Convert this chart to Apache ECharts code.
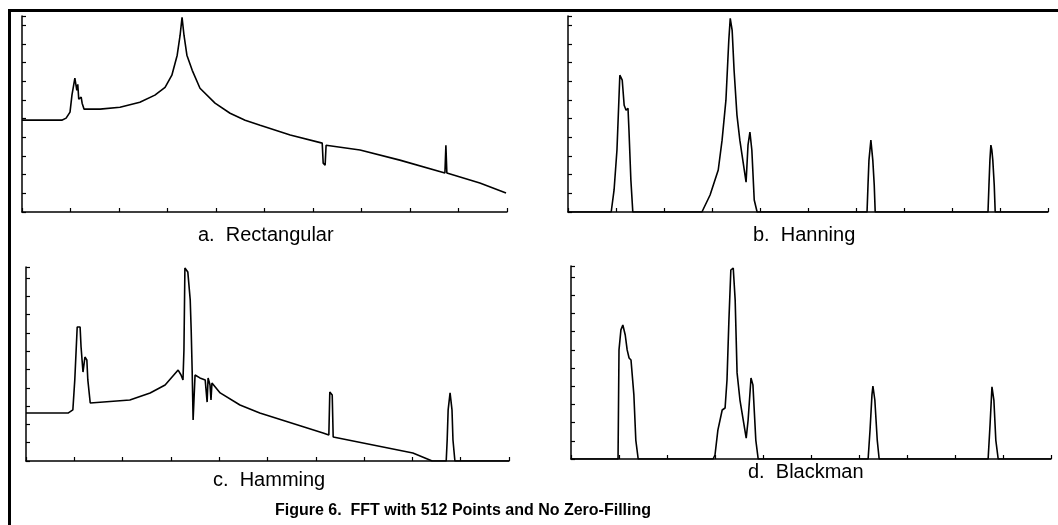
<!DOCTYPE html>
<html>
<head>
<meta charset="utf-8">
<title>FFT with 512 Points and No Zero-Filling</title>
<script src="https://cdn.jsdelivr.net/npm/echarts@6/dist/echarts.min.js"></script>
<style>
  html, body { margin: 0; padding: 0; background: #fff; }
  #main { width: 1058px; height: 525px; }
</style>
</head>
<body>
<div id="main"></div>
<script>
// spectra, x in tenths of the band, y in tick units
var rectangular = [
  [0, 4.92], [0.82, 4.92], [0.91, 5.03], [0.99, 5.35], [1.03, 6.26], [1.09, 7.17],
  [1.13, 6.52], [1.15, 6.84], [1.17, 6.04], [1.22, 6.15], [1.24, 5.83], [1.28, 5.51],
  [1.61, 5.51], [2.02, 5.61], [2.43, 5.88], [2.74, 6.26], [2.95, 6.68], [3.09, 7.33],
  [3.20, 8.40], [3.26, 9.47], [3.30, 10.43], [3.34, 9.47], [3.40, 8.40], [3.51, 7.59],
  [3.67, 6.63], [3.98, 5.83], [4.29, 5.29], [4.60, 4.92], [4.91, 4.65], [5.53, 4.12],
  [6.19, 3.69], [6.21, 2.62], [6.25, 2.51], [6.27, 3.58], [6.97, 3.32], [7.79, 2.78],
  [8.72, 2.09], [8.74, 3.58], [8.76, 2.09], [9.44, 1.55], [9.98, 1.02]
]

var hanning = [
  [0, 0], [0.90, 0], [0.96, 1.18], [1.02, 3.32], [1.06, 5.99], [1.08, 7.33],
  [1.13, 7.06], [1.17, 5.72], [1.21, 5.45], [1.25, 5.56], [1.27, 4.39], [1.31, 1.71],
  [1.35, 0], [2.79, 0], [2.96, 0.91], [3.13, 2.25], [3.21, 3.85], [3.29, 5.99],
  [3.33, 8.13], [3.35, 9.20], [3.38, 10.37], [3.42, 9.73], [3.46, 7.59], [3.52, 5.19],
  [3.58, 3.85], [3.71, 1.60], [3.75, 3.58], [3.79, 4.28], [3.83, 3.32], [3.88, 0.64],
  [3.94, 0], [6.23, 0], [6.25, 1.44], [6.27, 2.78], [6.31, 3.85], [6.35, 2.78],
  [6.38, 1.44], [6.40, 0], [8.75, 0], [8.77, 1.44], [8.79, 2.78], [8.81, 3.58],
  [8.83, 3.32], [8.85, 2.78], [8.88, 1.44], [8.90, 0], [10, 0]
]

var hamming = [
  [0, 2.62], [0.87, 2.62], [0.97, 2.79], [1.01, 4.43], [1.06, 7.32], [1.12, 7.32],
  [1.14, 6.23], [1.18, 4.86], [1.22, 5.68], [1.26, 5.52], [1.28, 4.43], [1.33, 3.17],
  [1.37, 3.11], [2.15, 3.33], [2.57, 3.72], [2.88, 4.15], [3.15, 4.97], [3.21, 4.70],
  [3.25, 4.43], [3.27, 6.07], [3.29, 10.55], [3.35, 10.33], [3.40, 8.80], [3.42, 7.16],
  [3.44, 4.97], [3.46, 2.24], [3.50, 4.70], [3.60, 4.54], [3.71, 4.43], [3.75, 3.22],
  [3.77, 4.54], [3.81, 4.15], [3.83, 3.33], [3.85, 4.26], [4.02, 3.72], [4.43, 3.06],
  [4.84, 2.62], [6.15, 1.53], [6.27, 1.42], [6.29, 3.77], [6.34, 3.61], [6.36, 1.31],
  [8.01, 0.44], [8.41, 0], [8.70, 0], [8.72, 1.15], [8.74, 2.79], [8.78, 3.72],
  [8.82, 2.79], [8.84, 1.15], [8.88, 0], [10, 0]
]

var blackman = [
  [0, 0], [0.98, 0], [1.00, 5.99], [1.04, 7.09], [1.08, 7.36], [1.13, 6.81],
  [1.17, 5.99], [1.21, 5.55], [1.25, 5.44], [1.31, 3.52], [1.35, 1.04], [1.40, 0],
  [2.96, 0], [3.00, 0.22], [3.06, 1.59], [3.15, 2.69], [3.21, 2.80], [3.25, 4.34],
  [3.29, 7.64], [3.33, 10.38], [3.38, 10.49], [3.42, 8.74], [3.46, 4.73], [3.52, 3.24],
  [3.65, 1.15], [3.69, 2.14], [3.75, 4.45], [3.79, 4.07], [3.85, 1.04], [3.90, 0],
  [6.19, 0], [6.23, 1.59], [6.27, 3.52], [6.29, 4.01], [6.33, 3.24], [6.38, 1.04],
  [6.42, 0], [8.69, 0], [8.73, 1.87], [8.77, 3.96], [8.81, 3.24], [8.85, 1.04],
  [8.90, 0], [10, 0]
]

var captions = ['a.  Rectangular', 'b.  Hanning', 'c.  Hamming', 'd.  Blackman']
var figureTitle = 'Figure 6.  FFT with 512 Points and No Zero-Filling'

var myChart = echarts.init(document.getElementById('main'))

var grids = [
  { left: 22, top: 16, width: 485, height: 196 },
  { left: 568, top: 16, width: 480, height: 196 },
  { left: 26, top: 267, width: 483, height: 194 },
  { left: 571, top: 266, width: 480, height: 193 }
]
var yMax = [10.5, 10.5, 10.6, 10.6]
var spectra = [rectangular, hanning, hamming, blackman]

function axisStyle(i, isX) {
  return {
    type: 'value',
    gridIndex: i,
    min: 0,
    max: isX ? 10 : yMax[i],
    interval: 1,
    splitLine: { show: false },
    axisLabel: { show: false },
    axisLine: { show: true, onZero: false, lineStyle: { color: '#000', width: 1.5 } },
    axisTick: { show: true, inside: true, length: 4, lineStyle: { color: '#000', width: 1.2 } }
  }
}

var xAxes = [], yAxes = [], series = []
for (var i = 0; i < 4; i++) {
  xAxes.push(axisStyle(i, true))
  yAxes.push(axisStyle(i, false))
  series.push({
    type: 'line',
    xAxisIndex: i,
    yAxisIndex: i,
    data: spectra[i],
    showSymbol: false,
    symbol: 'none',
    animation: false,
    lineStyle: { color: '#000', width: 1.6 }
  })
}

var captionPos = [[198, 235], [753, 235], [213, 480], [748, 472]]
var graphics = [
  { type: 'line', shape: { x1: 9.5, y1: 9, x2: 9.5, y2: 525 }, style: { stroke: '#000', lineWidth: 3 } },
  { type: 'line', shape: { x1: 8, y1: 10.5, x2: 1058, y2: 10.5 }, style: { stroke: '#000', lineWidth: 3 } }
]
captions.forEach(function (c, k) {
  graphics.push({
    type: 'text',
    x: captionPos[k][0],
    y: captionPos[k][1],
    style: {
      text: c, fill: '#000', verticalAlign: 'middle',
      font: '20px "Liberation Sans", Arial, sans-serif'
    }
  })
})
graphics.push({
  type: 'text',
  x: 275,
  y: 511,
  style: {
    text: figureTitle, fill: '#000', verticalAlign: 'middle',
    font: 'bold 16px "Liberation Sans", Arial, sans-serif'
  }
})

var option = {
  backgroundColor: '#fff',
  animation: false,
  grid: grids,
  xAxis: xAxes,
  yAxis: yAxes,
  series: series,
  graphic: graphics
}
myChart.setOption(option)
</script>
</body>
</html>
